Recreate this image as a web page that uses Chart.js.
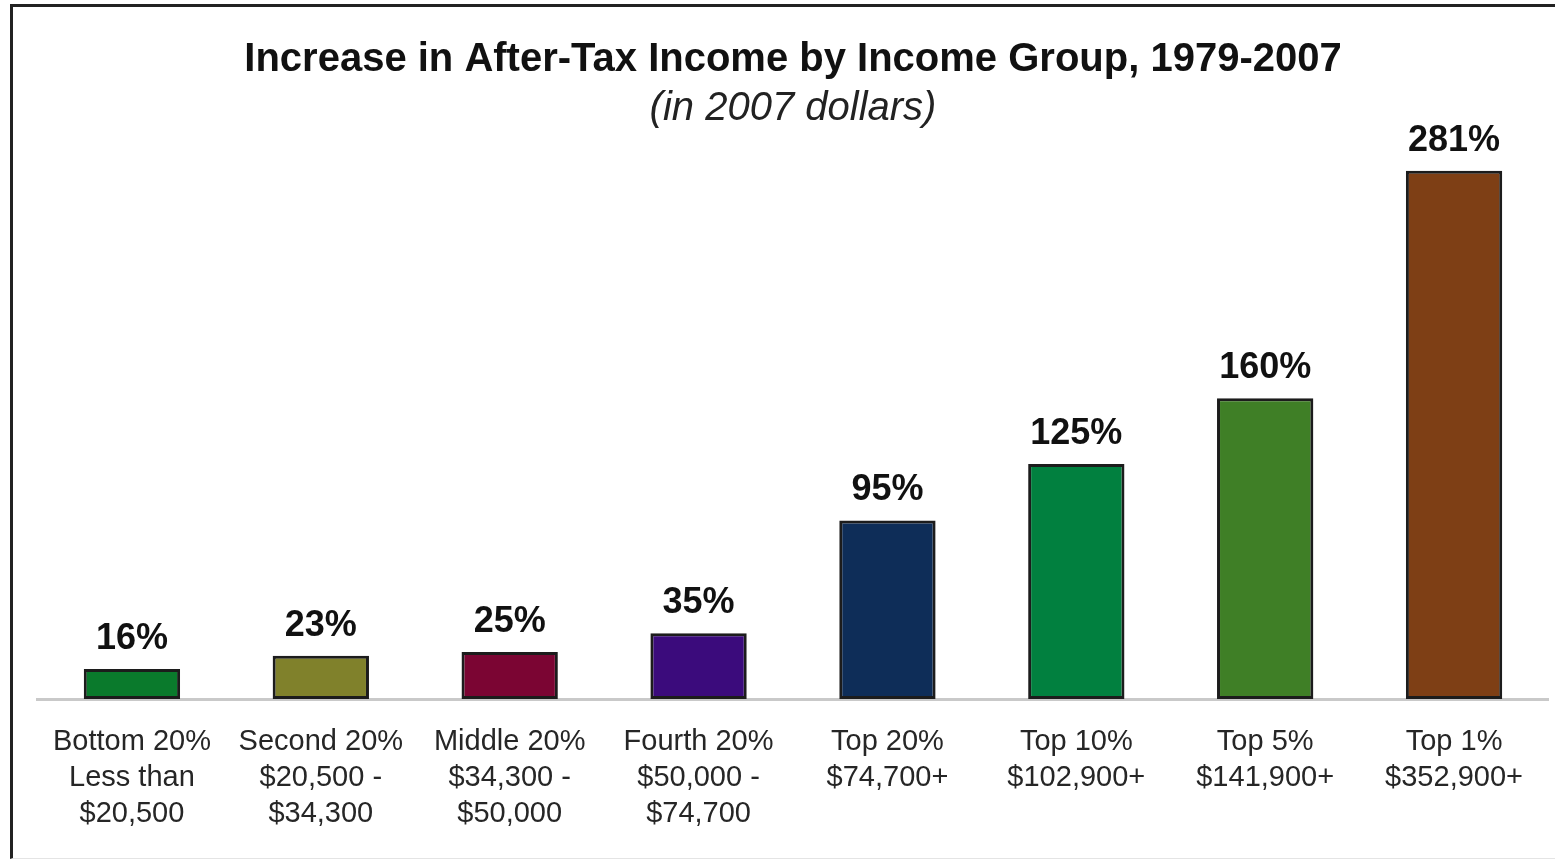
<!DOCTYPE html>
<html>
<head>
<meta charset="utf-8">
<script src="https://cdn.jsdelivr.net/npm/chart.js@4.4.1/dist/chart.umd.min.js"></script>
<style>
  html, body { margin: 0; padding: 0; background: #fff; }
  #wrap { position: relative; width: 1555px; height: 861px; }
  #frame {
    position: absolute; left: 10px; top: 4px; right: 0; bottom: 2px;
    border-top: 3px solid #222; border-left: 3px solid #222;
    border-bottom: 1px solid #e4e4e4;
    pointer-events: none;
  }
</style>
</head>
<body>
<div id="wrap">
  <canvas id="incomeChart" width="1555" height="861"></canvas>
  <div id="frame"></div>
</div>
<script>
// categories (two or three lines each)
const groups = [
    ['Bottom 20%', 'Less than', '$20,500'],
    ['Second 20%', '$20,500 -', '$34,300'],
    ['Middle 20%', '$34,300 -', '$50,000'],
    ['Fourth 20%', '$50,000 -', '$74,700'],
    ['Top 20%', '$74,700+'],
    ['Top 10%', '$102,900+'],
    ['Top 5%', '$141,900+'],
    ['Top 1%', '$352,900+']
];
// percent increase 1979-2007
const increase = [16, 23, 25, 35, 95, 125, 160, 281];
const barColors = ['#0a7a2c', '#80812b', '#7b0533', '#3b0b7c', '#0e2d58', '#01803f', '#3f7f26', '#7e3f15'];

// draws the "xx%" labels above the bars
const valueLabels = {
    id: 'valueLabels',
    afterDatasetsDraw(chart) {
        const ctx = chart.ctx;
        const meta = chart.getDatasetMeta(0);
        ctx.save();
        ctx.font = 'bold 36px "Liberation Sans", Arial, sans-serif';
        ctx.fillStyle = '#111';
        ctx.textAlign = 'center';
        ctx.textBaseline = 'alphabetic';
        meta.data.forEach((bar, i) => {
            ctx.fillText(increase[i] + '%', bar.x, bar.y - 20);
        });
        ctx.restore();
    }
};

new Chart(document.getElementById('incomeChart').getContext('2d'), {
    type: 'bar',
    data: {
        labels: groups,
        datasets: [{
            data: increase,
            backgroundColor: barColors,
            borderColor: '#1c1c1c',
            borderWidth: 3,
            borderSkipped: false,
            barPercentage: 0.51,
            categoryPercentage: 1
        }]
    },
    options: {
        responsive: false,
        animation: false,
        layout: {
            padding: { top: 0, left: 37.5, right: 6.5, bottom: 12 }
        },
        plugins: {
            legend: { display: false },
            tooltip: { enabled: false },
            title: {
                display: true,
                text: 'Increase in After-Tax Income by Income Group, 1979-2007',
                color: '#111',
                font: { family: '"Liberation Sans", Arial, sans-serif', size: 40, weight: 'bold', lineHeight: 1.2 },
                padding: { top: 36, bottom: 1 }
            },
            subtitle: {
                display: true,
                text: '(in 2007 dollars)',
                color: '#222',
                font: { family: '"Liberation Sans", Arial, sans-serif', size: 40, style: 'italic', lineHeight: 1.2 },
                padding: { top: 0, bottom: 2 }
            }
        },
        scales: {
            x: {
                grid: { display: false },
                border: { display: true, color: '#c9c9c9', width: 3 },
                ticks: {
                    color: '#262626',
                    autoSkip: false,
                    maxRotation: 0,
                    padding: 17,
                    font: { family: '"Liberation Sans", Arial, sans-serif', size: 29, lineHeight: '36px' }
                }
            },
            y: {
                display: false,
                min: 0,
                max: 300
            }
        }
    },
    plugins: [valueLabels]
});
</script>
</body>
</html>
